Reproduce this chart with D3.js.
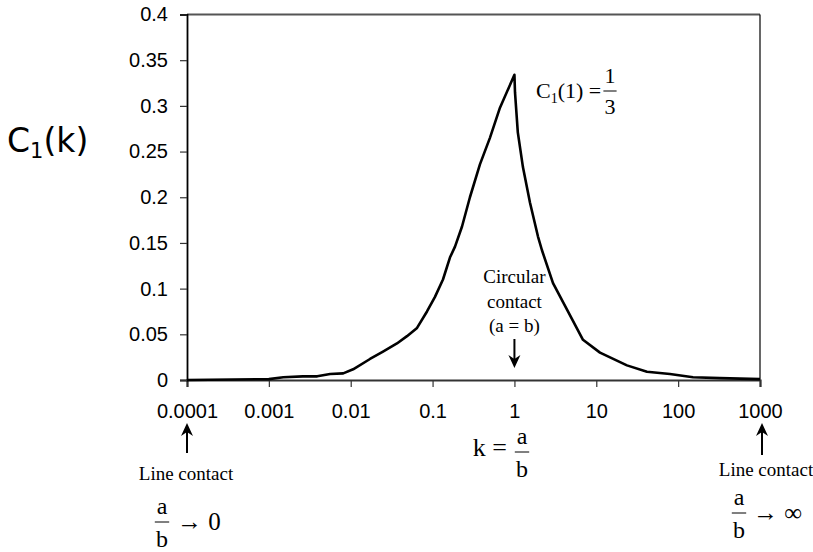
<!DOCTYPE html>
<html>
<head>
<meta charset="utf-8">
<script src="https://cdn.jsdelivr.net/npm/d3@7"></script>
<style>
  body { margin: 0; background: #fff; }
  .tick text { font-family: "Liberation Sans", Arial, sans-serif; font-size: 20px; fill: #000; }
  .note { font-family: "Liberation Serif", "Times New Roman", serif; fill: #000; }
</style>
</head>
<body>
<div id="chart"></div>
<script>
// curve C1(k)
var kValues = [0.0001, 0.001, 0.0015, 0.0026, 0.0039, 0.0056, 0.0081, 0.0107, 0.0172, 0.0248,
  0.0367, 0.0487, 0.0646, 0.0855, 0.107, 0.134, 0.163, 0.188, 0.229, 0.286,
  0.379, 0.502, 0.666, 1.0, 1.016, 1.10, 1.27, 1.55, 1.94, 2.17,
  2.96, 4.39, 6.88, 11.1, 23.7, 41.6, 79.4, 152, 324, 1000];
var c1Values = [0, 0.001, 0.003, 0.004, 0.004, 0.0066, 0.0073, 0.0117, 0.023, 0.031,
  0.040, 0.048, 0.057, 0.075, 0.091, 0.11, 0.134, 0.146, 0.168, 0.2,
  0.236, 0.265, 0.298, 0.334, 0.315, 0.271, 0.233, 0.194, 0.157, 0.142,
  0.106, 0.077, 0.044, 0.030, 0.016, 0.009, 0.0066, 0.003, 0.002, 0.001];

var xTicks = [0.0001, 0.001, 0.01, 0.1, 1, 10, 100, 1000];
var xTickLabels = ["0.0001", "0.001", "0.01", "0.1", "1", "10", "100", "1000"];
var yTicks = [0, 0.05, 0.1, 0.15, 0.2, 0.25, 0.3, 0.35, 0.4];
var yTickLabels = ["0", "0.05", "0.1", "0.15", "0.2", "0.25", "0.3", "0.35", "0.4"];

var width = 813, height = 552;
var plot = { left: 187, right: 760, top: 14.5, bottom: 380 };

var svg = d3.select('#chart').append('svg')
  .attr('width', width)
  .attr('height', height);

var x = d3.scaleLog().domain([0.0001, 1000]).range([plot.left, plot.right]);
var y = d3.scaleLinear().domain([0, 0.4]).range([plot.bottom, plot.top]);

// frame: top and right
svg.append('line')
  .attr('x1', plot.left).attr('x2', plot.right)
  .attr('y1', plot.top).attr('y2', plot.top)
  .attr('stroke', '#555').attr('stroke-width', 2);
svg.append('line')
  .attr('x1', plot.right).attr('x2', plot.right)
  .attr('y1', plot.top).attr('y2', plot.bottom)
  .attr('stroke', '#000').attr('stroke-width', 1.2);

// x axis
var xAxis = svg.append('g')
  .attr('transform', 'translate(0,' + plot.bottom + ')')
  .call(d3.axisBottom(x)
    .tickValues(xTicks)
    .tickFormat(function (d, i) { return xTickLabels[i]; })
    .tickSizeOuter(0)
    .tickSize(7)
    .tickPadding(17));
xAxis.select('.domain').attr('stroke', '#333').attr('stroke-width', 2.2);
xAxis.selectAll('.tick line').attr('stroke', '#333').attr('stroke-width', 1.2);

// y axis
var yAxis = svg.append('g')
  .attr('transform', 'translate(' + plot.left + ',0)')
  .call(d3.axisLeft(y)
    .tickValues(yTicks)
    .tickFormat(function (d, i) { return yTickLabels[i]; })
    .tickSizeOuter(0)
    .tickSize(7)
    .tickPadding(12));
yAxis.select('.domain').attr('stroke', '#000').attr('stroke-width', 1.8);
yAxis.selectAll('.tick line').attr('stroke', '#333').attr('stroke-width', 1.2);

// curve
var points = kValues.map(function (k, i) { return [k, c1Values[i]]; });
svg.append('path')
  .datum(points)
  .attr('fill', 'none')
  .attr('stroke', '#000')
  .attr('stroke-width', 2.6)
  .attr('stroke-linejoin', 'round')
  .attr('d', d3.line()
    .x(function (d) { return x(d[0]); })
    .y(function (d) { return y(d[1]); }));

// y title C1(k)
var yTitle = svg.append('text')
  .attr('x', 7).attr('y', 152)
  .style('font-family', '"DejaVu Sans", Verdana, sans-serif')
  .style('font-size', '33px');
yTitle.append('tspan').text('C');
yTitle.append('tspan').attr('dy', 6).style('font-size', '21px').text('1');
yTitle.append('tspan').attr('dy', -6).text('(k)');

// helpers
function arrow(x0, yTail, yHead) {
  var dir = yHead > yTail ? 1 : -1;
  svg.append('line')
    .attr('x1', x0).attr('x2', x0)
    .attr('y1', yTail).attr('y2', yHead - dir * 6)
    .attr('stroke', '#000').attr('stroke-width', 2);
  svg.append('path')
    .attr('d', 'M' + x0 + ',' + yHead +
      'L' + (x0 - 6) + ',' + (yHead - dir * 13) +
      'L' + x0 + ',' + (yHead - dir * 9) +
      'L' + (x0 + 6) + ',' + (yHead - dir * 13) + 'Z')
    .attr('fill', '#000');
}

function fraction(cx, cy, num, den, size) {
  svg.append('text').attr('class', 'note')
    .attr('x', cx).attr('y', cy - size * 0.35)
    .attr('text-anchor', 'middle')
    .style('font-size', size + 'px').text(num);
  svg.append('line')
    .attr('x1', cx - size * 0.3).attr('x2', cx + size * 0.3)
    .attr('y1', cy).attr('y2', cy)
    .attr('stroke', '#000').attr('stroke-width', 1);
  svg.append('text').attr('class', 'note')
    .attr('x', cx).attr('y', cy + size * 1.03)
    .attr('text-anchor', 'middle')
    .style('font-size', size + 'px').text(den);
}

// C1(1) = 1/3
var peakLabel = svg.append('text').attr('class', 'note')
  .attr('x', 536).attr('y', 98)
  .style('font-size', '22px');
peakLabel.append('tspan').text('C');
peakLabel.append('tspan').attr('dy', 5).style('font-size', '14px').text('1');
peakLabel.append('tspan').attr('dy', -5).text('(1) =');
fraction(610, 91, '1', '3', 22);

// circular contact
var circ = ['Circular', 'contact', '(a = b)'];
circ.forEach(function (t, i) {
  svg.append('text').attr('class', 'note')
    .attr('x', x(1)).attr('y', 283 + i * 24.5)
    .attr('text-anchor', 'middle')
    .style('font-size', '19px').text(t);
});
arrow(x(1), 339, 368);

// k = a/b
svg.append('text').attr('class', 'note')
  .attr('x', 507).attr('y', 456)
  .attr('text-anchor', 'end')
  .style('font-size', '26px').text('k =');
fraction(522, 452, 'a', 'b', 24);

// line contact, left
arrow(x(0.0001), 453, 423);
svg.append('text').attr('class', 'note')
  .attr('x', 186).attr('y', 480)
  .attr('text-anchor', 'middle')
  .style('font-size', '19px').text('Line contact');
fraction(162, 522, 'a', 'b', 24);
svg.append('text').attr('class', 'note')
  .attr('x', 177).attr('y', 530)
  .style('font-size', '25px').text('\u2192 0');

// line contact, right
arrow(x(1000) + 2, 455, 423);
svg.append('text').attr('class', 'note')
  .attr('x', 766).attr('y', 476)
  .attr('text-anchor', 'middle')
  .style('font-size', '19px').text('Line contact');
fraction(739, 513, 'a', 'b', 24);
svg.append('text').attr('class', 'note')
  .attr('x', 753).attr('y', 521)
  .style('font-size', '25px').text('\u2192 \u221e');
</script>
</body>
</html>
